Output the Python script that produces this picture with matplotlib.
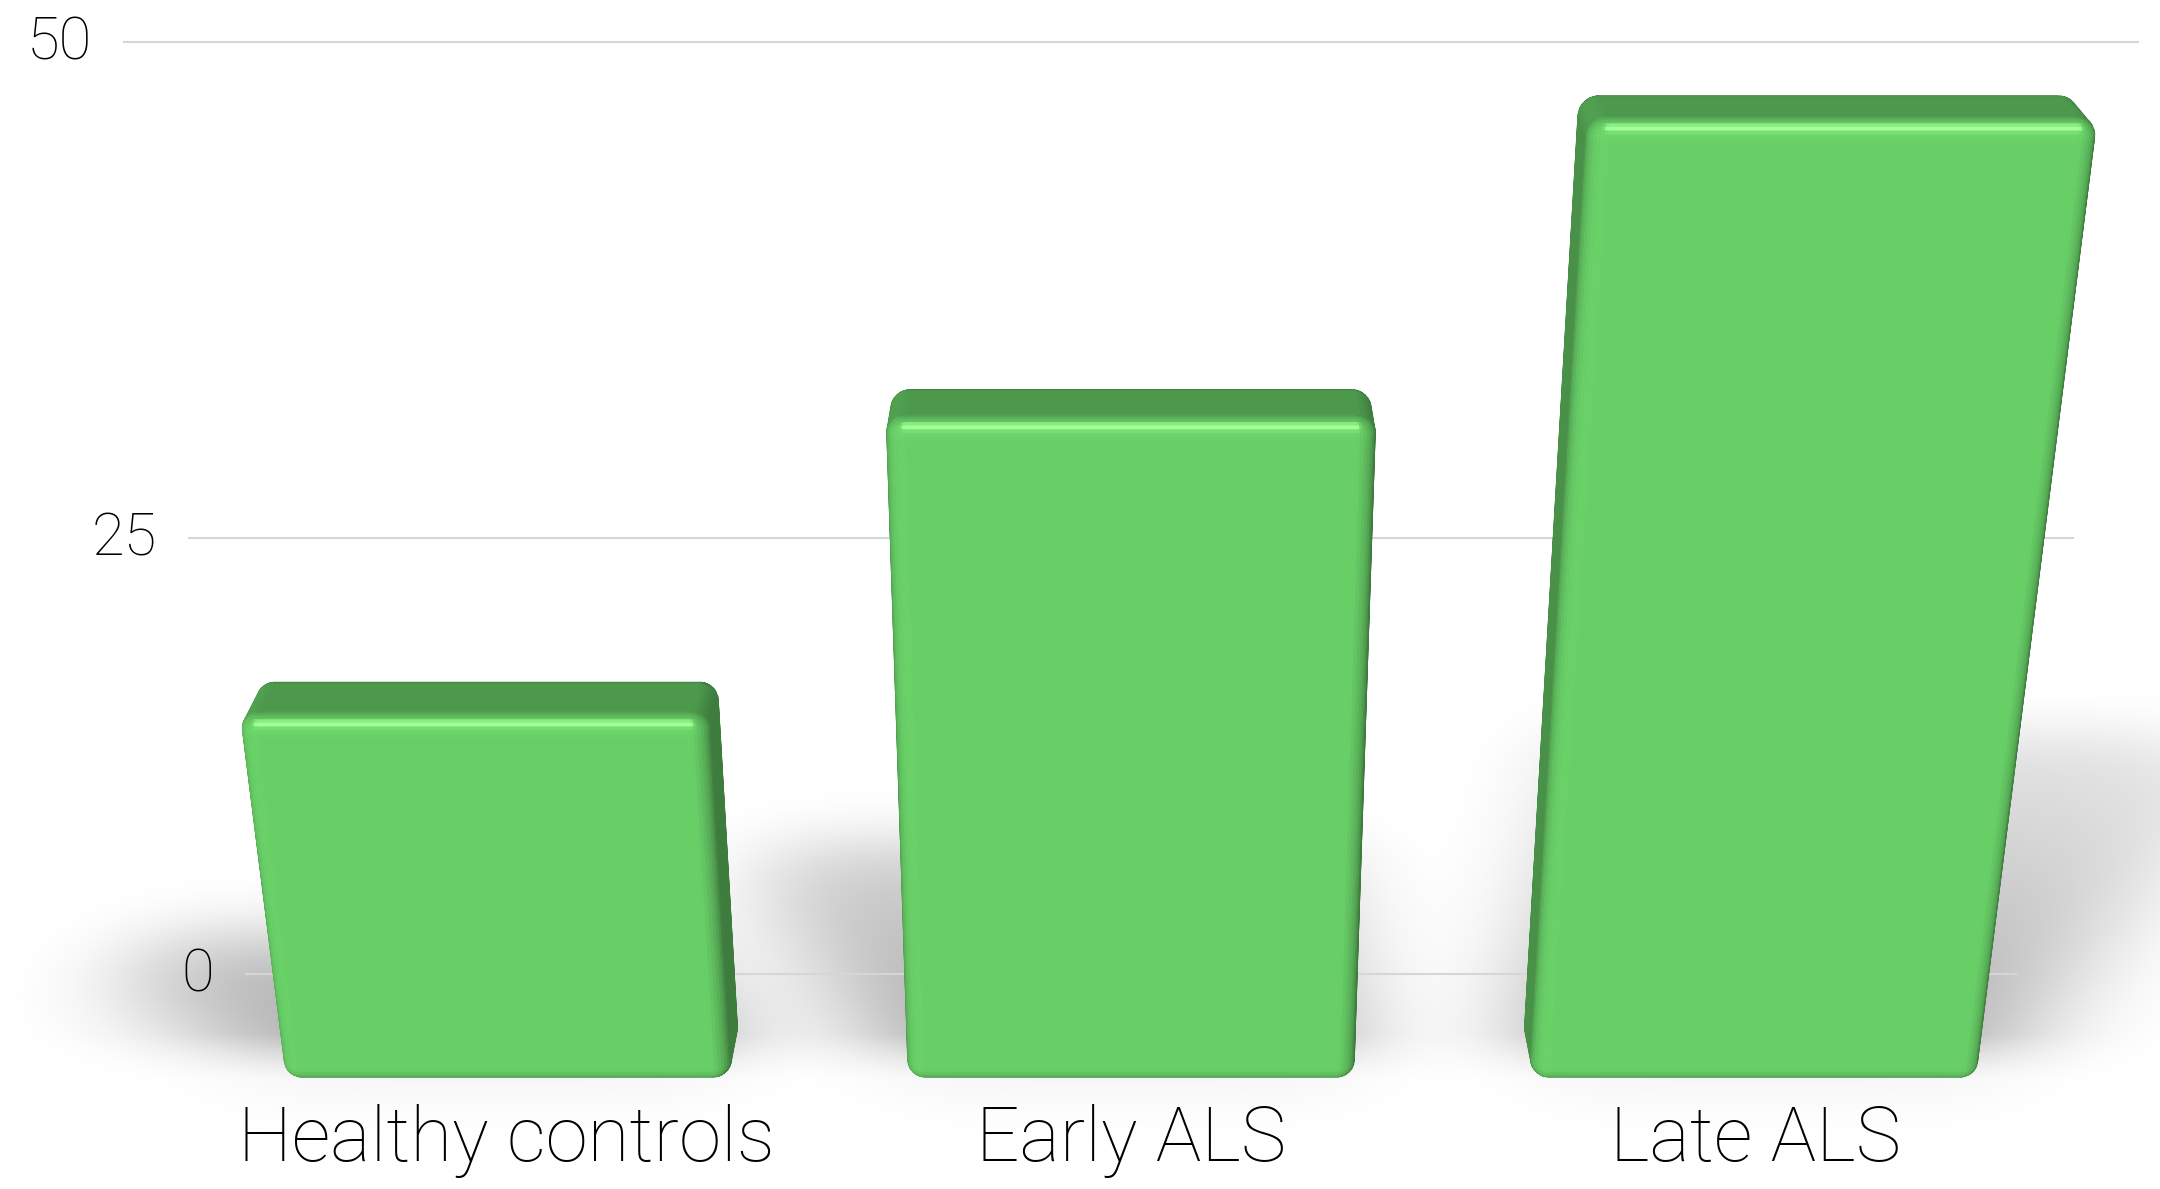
import numpy as np
import matplotlib
matplotlib.use("Agg")
import matplotlib.pyplot as plt
from matplotlib.collections import PolyCollection
from matplotlib.path import Path

# ---------------------------------------------------------------- data
categories = ["Healthy controls", "Early ALS", "Late ALS"]
values = [20.3, 35.4, 49.4]
y_ticks = [0, 25, 50]
tick_labels = ["0", "25", "50"]

# ---------------------------------------------------------------- scene (value units)
BAR_W = 22.15        # bar width
BAR_D = 4.6          # bar depth
BAR_PITCH = 30.88    # distance between bar centres
BEVEL = 0.9          # rounding radius of the bar edges
WALL_Y = 10.3        # depth of the plane holding the gridlines
WALL_W = 92.5        # gridline length

# camera looking down at the chart (3-point perspective)
CAM_Y = -141.4
CAM_Z = 93.95
TILT = np.radians(25.4)
FOCAL = 3398.0
PX, PY = 1131.0, 594.5
W_PX, H_PX = 2160, 1189

LIGHT_DIR = np.array([-0.25, -1.0, 0.35])
LIGHT_DIR = LIGHT_DIR / np.linalg.norm(LIGHT_DIR)
HALF_VEC = np.array([0.0, -0.74, 0.67])
HALF_VEC = HALF_VEC / np.linalg.norm(HALF_VEC)
LAMP = np.array([11.0, -44.0, 122.0])      # point light used for the floor shadows

BAR_RGB = np.array([104, 207, 103]) / 255.0
SPEC_RGB = np.array([0.26, 0.30, 0.22])

plt.rcParams['font.family'] = ['Roboto', 'DejaVu Sans']


def project(x, y, z):
    """Perspective projection onto the camera image plane."""
    x = np.asarray(x, float)
    ry = np.asarray(y, float) - CAM_Y
    rz = np.asarray(z, float) - CAM_Z
    d = ry * np.cos(TILT) - rz * np.sin(TILT)
    v = ry * np.sin(TILT) + rz * np.cos(TILT)
    return x / d, v / d


def convex_hull(points):
    pts = sorted(set(points))
    if len(pts) <= 2:
        return pts

    def cross(o, a, b):
        return (a[0] - o[0]) * (b[1] - o[1]) - (a[1] - o[1]) * (b[0] - o[0])

    lower, upper = [], []
    for p in pts:
        while len(lower) >= 2 and cross(lower[-2], lower[-1], p) <= 0:
            lower.pop()
        lower.append(p)
    for p in reversed(pts):
        while len(upper) >= 2 and cross(upper[-2], upper[-1], p) <= 0:
            upper.pop()
        upper.append(p)
    return lower[:-1] + upper[:-1]


def gaussian_blur(a, sigma):
    r = int(3 * sigma)
    k = np.exp(-0.5 * (np.arange(-r, r + 1) / sigma) ** 2)
    k /= k.sum()
    a = np.apply_along_axis(lambda m: np.convolve(m, k, mode='same'), 0, a)
    a = np.apply_along_axis(lambda m: np.convolve(m, k, mode='same'), 1, a)
    return a


def rounded_box(x0, x1, y0, y1, z0, z1, r, n=8):
    """Quads (world coords) and normals of a box with rounded edges."""
    c = np.array([(x0 + x1) / 2, (y0 + y1) / 2, (z0 + z1) / 2])
    e = np.array([(x1 - x0) / 2 - r, (y1 - y0) / 2 - r, (z1 - z0) / 2 - r])
    lon = []
    for q in range(4):
        sx = 1 if q in (0, 3) else -1
        sy = 1 if q in (0, 1) else -1
        for t in np.linspace(q * np.pi / 2, (q + 1) * np.pi / 2, n + 1):
            lon.append((t, sx, sy))
    lon.append(lon[0])
    lat = []
    for sz, (a, b) in ((-1, (-np.pi / 2, 0)), (1, (0, np.pi / 2))):
        for t in np.linspace(a, b, n + 1):
            lat.append((t, sz))

    P = np.zeros((len(lat), len(lon), 3))
    N = np.zeros_like(P)
    for i, (psi, sz) in enumerate(lat):
        for j, (phi, sx, sy) in enumerate(lon):
            nrm = np.array([np.cos(psi) * np.cos(phi), np.cos(psi) * np.sin(phi), np.sin(psi)])
            N[i, j] = nrm
            P[i, j] = c + e * np.array([sx, sy, sz]) + r * nrm
    quads, normals = [], []
    for i in range(len(lat) - 1):
        for j in range(len(lon) - 1):
            q = np.array([P[i, j], P[i, j + 1], P[i + 1, j + 1], P[i + 1, j]])
            nm = N[i, j] + N[i, j + 1] + N[i + 1, j + 1] + N[i + 1, j]
            ln = np.linalg.norm(nm)
            if ln < 1e-9:
                continue
            quads.append(q)
            normals.append(nm / ln)
    top = c[2] + e[2] + r
    bot = c[2] - e[2] - r
    for zc, nz in ((top, 1.0), (bot, -1.0)):
        quads.append(np.array([[c[0] - e[0], c[1] - e[1], zc], [c[0] + e[0], c[1] - e[1], zc],
                               [c[0] + e[0], c[1] + e[1], zc], [c[0] - e[0], c[1] + e[1], zc]]))
        normals.append(np.array([0.0, 0.0, nz]))
    return np.array(quads), np.array(normals)


def shade(normals):
    ndl = np.clip(normals @ LIGHT_DIR, 0, None)
    intensity = 0.60 + 0.4355 * ndl
    spec = np.clip(normals @ HALF_VEC, 0, None) ** 60
    rgb = BAR_RGB[None, :] * intensity[:, None] + SPEC_RGB[None, :] * spec[:, None]
    return np.clip(rgb, 0, 1)


# ---------------------------------------------------------------- figure
fig = plt.figure(figsize=(W_PX / 100, H_PX / 100), dpi=100)
ax = fig.add_axes([0, 0, 1, 1])
XLIM = (-PX / FOCAL, (W_PX - PX) / FOCAL)
YLIM = ((PY - H_PX) / FOCAL, PY / FOCAL)
ax.axis('off')

bar_x = [(i - (len(values) - 1) / 2) * BAR_PITCH for i in range(len(values))]

# floor shadows: soft occlusion field on the floor, then seen through the camera
sg = 0.25
wx = np.arange(-110, 130, sg)
wy = np.arange(-15, 75, sg)
WX, WY = np.meshgrid(wx, wy)
grid_pts = np.column_stack([WX.ravel(), WY.ravel()])
occ = np.zeros(WX.shape)
for xc, h in zip(bar_x, values):
    x0, x1 = xc - BAR_W / 2, xc + BAR_W / 2
    foot = [(x0, 0.0), (x1, 0.0), (x1, BAR_D), (x0, BAR_D)]
    k = h / (LAMP[2] - h)
    tops = [(px + (px - LAMP[0]) * k, py + (py - LAMP[1]) * k) for px, py in foot]
    hull = convex_hull(foot + tops)
    inside = Path(hull).contains_points(grid_pts).reshape(WX.shape).astype(float)
    ddx = np.maximum(np.maximum(x0 - WX, WX - x1), 0)
    ddy = np.maximum(np.maximum(-WY, WY - BAR_D), 0)
    fade = np.exp(-np.hypot(ddx, ddy) / 30.0)
    occ = np.maximum(occ, inside * fade)
occ = gaussian_blur(occ, 3.0 / sg)
# light falls on the floor in front of the bars, only a faint contact shade there
occ *= 0.2 + 0.8 * np.clip((WY - 0.5) / 4.0, 0, 1)

rows, cols = np.mgrid[0:H_PX, 0:W_PX]
u = (cols + 0.5 - PX) / FOCAL
v = (PY - (rows + 0.5)) / FOCAL
dir_y = np.cos(TILT) + v * np.sin(TILT)
dir_z = -np.sin(TILT) + v * np.cos(TILT)
t = -CAM_Z / dir_z
FX = (t * u - wx[0]) / sg
FY = (CAM_Y + t * dir_y - wy[0]) / sg
valid = (FX >= 0) & (FX < len(wx) - 1) & (FY >= 0) & (FY < len(wy) - 1)
FXc = np.clip(FX, 0, len(wx) - 1.001)
FYc = np.clip(FY, 0, len(wy) - 1.001)
i0 = FYc.astype(int)
j0 = FXc.astype(int)
ay = FYc - i0
axx = FXc - j0
samp = (occ[i0, j0] * (1 - ay) * (1 - axx) + occ[i0, j0 + 1] * (1 - ay) * axx +
        occ[i0 + 1, j0] * ay * (1 - axx) + occ[i0 + 1, j0 + 1] * ay * axx)
samp = np.where(valid, samp, 0.0)
shadow_img = np.zeros((H_PX, W_PX, 4))
shadow_img[..., 3] = 0.34 * np.clip(samp, 0, 1)
ax.imshow(shadow_img, extent=(XLIM[0], XLIM[1], YLIM[0], YLIM[1]), origin='upper',
          interpolation='nearest', aspect='auto', zorder=1)

# gridlines and value labels ---------------------------------------------
for z, lab in zip(y_ticks, tick_labels):
    xs, ys = project([-WALL_W / 2, WALL_W / 2], [WALL_Y, WALL_Y], [z, z])
    ax.plot(xs, ys, color='#d6d6d6', lw=1.5, solid_capstyle='butt', zorder=2)
    ax.annotate(lab, xy=(xs[0], ys[0]), xytext=(-22, -1), textcoords='offset points',
                ha='right', va='center', fontsize=43, fontweight='light',
                color='black', zorder=5)

# bars --------------------------------------------------------------------
cam = np.array([0.0, CAM_Y, CAM_Z])
for xc, h in zip(bar_x, values):
    quads, normals = rounded_box(xc - BAR_W / 2, xc + BAR_W / 2, 0.0, BAR_D, 0.0, h, BEVEL)
    centre = quads.mean(axis=1)
    facing = np.einsum('ij,ij->i', normals, cam[None, :] - centre) > 0
    quads, normals = quads[facing], normals[facing]
    colors = shade(normals)
    polys = []
    for q in quads:
        px_, py_ = project(q[:, 0], q[:, 1], q[:, 2])
        polys.append(np.column_stack([px_, py_]))
    pc = PolyCollection(polys, facecolors=colors, edgecolors=colors, linewidths=0.6, zorder=3)
    ax.add_collection(pc)

# category labels ---------------------------------------------------------
for xc, name in zip(bar_x, categories):
    lx, ly = project(xc, 0.0, 0.0)
    ax.annotate(name, xy=(lx, ly), xytext=(0, -55), textcoords='offset points',
                ha='center', va='baseline', fontsize=55, fontweight='light',
                color='black', zorder=5)

ax.set_xlim(*XLIM)
ax.set_ylim(*YLIM)
fig.savefig('out.png', dpi=100, facecolor='white')
